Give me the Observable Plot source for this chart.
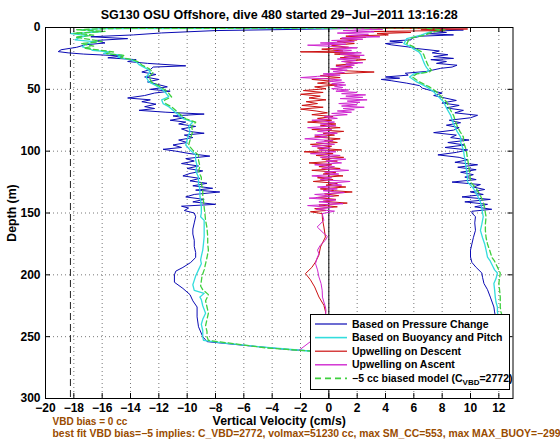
<!DOCTYPE html>
<html><head><meta charset="utf-8">
<script src="https://cdn.jsdelivr.net/npm/d3@7"></script>
<script src="https://cdn.jsdelivr.net/npm/@observablehq/plot@0.6"></script>
<style>body{margin:0;background:#fff}#chart{width:560px;height:442px}</style>
</head><body><div id="chart"></div>
<script>
// ---------- data ----------
const titleText = "SG130 OSU Offshore, dive 480 started 29\u2212Jul\u22122011 13:16:28";
const xLabel = "Vertical Velocity (cm/s)";
const yLabel = "Depth (m)";
const noteLines = ["VBD bias = 0 cc",
  "best fit VBD bias=\u22125 implies: C_VBD=2772, volmax=51230 cc, max SM_CC=553, max MAX_BUOY=\u2212299"];
const legendLabels = ["Based on Pressure Change", "Based on Buoyancy and Pitch", "Upwelling on Descent", "Upwelling on Ascent", "\u22125 cc biased model (C"];
const xTicks = [-20,-18,-16,-14,-12,-10,-8,-6,-4,-2,0,2,4,6,8,10,12];
const yTicks = [0,50,100,150,200,250,300];
const vbdLimit = -18.24;

// [depth (m), vertical velocity (cm/s)]
const pressureDescent = [[0.3,5.0],[0.8,1.7],[2.5,-8.0],[4.4,-11.8],[6.0,-13.8],[7.5,-16.8],[9.0,-14.2],[10.5,-16.5],[12.5,-15.8],[14.0,-17.2],[16.0,-17.8],[18.0,-18.9],[19.5,-19.1],[20.5,-18.4],[21.5,-17.3],[23.0,-14.6],[24.5,-15.6],[26.0,-13.6],[27.5,-14.2],[29.0,-12.8],[31.0,-10.1],[32.0,-12.4],[34.0,-12.6],[36.0,-13.2],[38.0,-12.2],[40.0,-13.0],[42.0,-12.0],[44.0,-12.8],[46.0,-12.1],[48.0,-11.4],[50.0,-12.6],[51.5,-11.2],[53.0,-12.3],[55.0,-13.0],[57.0,-14.2],[58.5,-12.6],[60.0,-13.2],[62.0,-12.2],[64.0,-13.0],[65.5,-12.3],[67.0,-13.4],[68.5,-11.5],[70.0,-8.8],[71.5,-11.0],[73.0,-10.2],[75.0,-11.2],[76.5,-10.1],[78.0,-10.6],[80.0,-9.4],[82.0,-10.4],[84.0,-9.9],[85.5,-8.8],[87.0,-10.2],[89.0,-9.6],[91.0,-10.6],[93.0,-10.0],[95.0,-11.0],[97.0,-10.4],[98.5,-11.7],[100.0,-10.8],[102.0,-9.8],[104.0,-8.4],[106.0,-10.1],[108.0,-9.5],[110.0,-10.4],[112.0,-9.2],[114.0,-10.0],[116.0,-8.9],[118.0,-9.8],[120.0,-10.3],[122.0,-9.1],[124.0,-9.8],[126.0,-8.6],[128.0,-9.6],[130.0,-8.2],[131.5,-9.4],[133.0,-7.7],[135.0,-9.5],[137.0,-10.1],[139.0,-8.8],[141.0,-9.6],[143.0,-8.0],[144.5,-10.4],[146.0,-9.9],[148.0,-10.2],[150.0,-9.5],[153.0,-9.4],[158.0,-9.5],[163.0,-9.6],[167.0,-9.6],[172.0,-9.5],[177.0,-9.5],[182.0,-9.4],[186.0,-9.4],[190.0,-9.75],[194.0,-10.3],[197.0,-10.8],[200.0,-10.9],[206.0,-10.9],[211.0,-10.3],[216.0,-9.8],[221.0,-9.6],[226.0,-9.3],[234.0,-9.3],[242.0,-9.2],[250.0,-8.9],[254.0,-8.6],[257.0,-6.0],[260.6,-2.7],[261.5,-1.1],[262.5,4.0]];
const pressureAscent = [[0.3,6.0],[1,8.0],[2,9.5],[3,7.4],[4,8.3],[5,6.9],[6,8.8],[7,6.5],[8.5,5.9],[10,5.8],[11,4.3],[12,5.2],[13,4.0],[14,4.4],[15.7,5.6],[17,6.2],[19,7.8],[20.5,7.3],[22,8.4],[23.5,7.4],[25,8.8],[26,7.2],[27.5,8.3],[29,7.6],[30.5,9.05],[32,8.7],[33,7.9],[34.5,7.3],[35.5,6.9],[37,5.4],[38.5,5.6],[40,4.0],[41,5.0],[42,3.7],[43,4.4],[45,5.5],[47,6.4],[49,6.6],[51,7.2],[53,8.0],[55,7.4],[57,8.2],[59,9.0],[61,8.0],[63,9.2],[65,8.3],[67,9.5],[69,8.9],[71,10.5],[73,10.0],[75,8.5],[77,9.3],[79,8.3],[81,9.2],[83,8.8],[85,7.4],[87,9.0],[89,8.6],[91,9.9],[93,8.4],[95,9.6],[97,8.2],[99,9.8],[101,9.0],[103,7.7],[105,9.2],[107,9.8],[109,8.9],[111,10.5],[113,9.1],[115,10.4],[117,9.3],[119,10.2],[121,9.6],[123,10.4],[125,8.7],[127,10.7],[129,10.2],[131,11.0],[133,10.0],[135,10.9],[137,9.4],[139,11.4],[141,9.6],[143,11.2],[145,10.3],[147,11.5],[148.6,10.1],[150,10.1],[153,10.35],[158,10.3],[164,10.35],[170,10.2],[175,10.1],[180,10.0],[185.6,10.0],[190,10.1],[194,10.4],[198.5,10.8],[202,10.85],[207,10.95],[212,11.2],[218,11.4],[226,11.65],[230,11.7],[236,11.8],[245,12.1],[255,12.3],[263,11.5]];
const buoyancyDescent = [[0.3,6.5],[0.9,-16.0],[2.0,-17.5],[3.5,-16.1],[4.9,-18.2],[6.5,-17.0],[8.0,-17.6],[10.0,-17.9],[11.6,-16.4],[13.5,-17.2],[15.7,-17.4],[17.0,-16.9],[18.4,-16.7],[19.7,-15.5],[21.0,-15.9],[22.4,-14.6],[24.0,-14.9],[26.0,-14.0],[27.8,-13.6],[30.0,-13.4],[33.0,-12.9],[36.0,-12.6],[40.0,-12.9],[44.0,-12.7],[47.0,-12.2],[50.7,-11.7],[53.0,-11.5],[56.0,-11.3],[58.5,-11.8],[61.5,-11.7],[64.0,-11.3],[67.0,-11.0],[70.0,-10.7],[73.6,-10.3],[76.4,-9.6],[80.0,-9.9],[84.0,-9.8],[87.0,-9.9],[91.0,-10.0],[95.0,-10.1],[99.0,-9.8],[103.0,-9.4],[107.0,-9.4],[112.0,-9.3],[116.0,-9.4],[121.0,-9.2],[126.0,-9.2],[131.0,-9.1],[136.0,-9.1],[140.0,-9.05],[145.0,-9.0],[150.0,-9.0],[153.0,-9.05],[156.0,-8.8],[162.0,-8.8],[169.0,-8.8],[175.0,-8.85],[180.0,-8.9],[185.0,-9.0],[188.0,-9.05],[191.0,-9.0],[196.0,-9.2],[201.0,-9.4],[204.5,-9.5],[208.0,-9.6],[212.5,-9.5],[215.0,-8.8],[218.0,-9.1],[220.0,-9.0],[225.0,-8.9],[231.0,-8.7],[236.0,-8.9],[240.0,-9.0],[245.0,-8.9],[250.0,-8.9],[253.0,-8.85],[255.0,-7.5],[258.0,-5.0],[261.0,-2.0],[262.0,-1.1],[263.0,2.0]];
const buoyancyAscent = [[0.5,6.5],[1.2,7.0],[2,7.9],[3,7.3],[4.5,6.9],[6.2,6.5],[7.5,6.0],[9,5.5],[11,5.4],[13,5.3],[15.7,5.8],[17.5,6.0],[19.7,6.35],[22,6.5],[25,6.6],[28,6.7],[30.5,6.8],[32.5,6.9],[34.5,7.05],[36,6.9],[37.5,6.0],[40,5.7],[44,6.2],[48,6.9],[52,7.4],[55.5,7.7],[60,8.1],[65,8.3],[71,8.6],[78,8.8],[84,9.05],[88.5,9.3],[92.5,9.3],[99,9.5],[103,9.55],[110,9.65],[118,9.75],[125,9.8],[130,10.2],[136,10.5],[141,10.7],[146,10.8],[150,10.85],[153,10.9],[159,10.8],[164,10.7],[170,10.85],[175,11.0],[180,11.1],[185.6,11.2],[189,11.4],[193.7,11.6],[196,11.7],[198.5,11.9],[203,11.8],[207,11.65],[212,11.7],[218,11.75],[222,11.8],[226,11.9],[230,11.9],[236,12.0],[245,12.2],[255,12.3],[262,12.0]];
const upwellingDescent = [[0.5,2.0],[1.2,9.8],[1.8,6.5],[2.5,8.2],[3.2,3.0],[4.0,5.8],[5.0,3.4],[6.0,4.2],[7.0,1.2],[8.0,2.6],[9.0,0.8],[10.0,2.0],[11.5,0.6],[13.0,1.8],[14.5,0.2],[16.0,1.4],[17.5,-0.5],[19.0,1.0],[19.7,-2.0],[20.5,1.8],[21.5,0.4],[23.0,2.2],[24.5,0.8],[26.0,2.6],[27.5,1.0],[29.0,2.0],[30.5,0.5],[32.0,1.6],[33.5,0.2],[35.0,1.2],[36.0,3.2],[37.5,0.4],[39.0,-0.6],[40.5,0.8],[42.0,-1.2],[43.5,0.3],[45.0,-0.8],[46.5,0.6],[48.0,-1.0],[49.5,-0.2],[51.0,-1.8],[52.5,-0.4],[54.0,-2.0],[55.5,-0.6],[57.0,-1.4],[58.5,-0.2],[60.0,-1.6],[61.5,-0.8],[63.0,-1.9],[64.5,-0.4],[66.0,-2.0],[67.5,-0.9],[69.0,-0.1],[70.5,-1.2],[72.0,0.3],[73.5,-0.8],[75.0,0.2],[76.5,-1.5],[78.0,0.5],[79.5,-0.6],[81.0,0.8],[82.5,-1.2],[84.0,1.05],[85.5,-0.4],[87.0,0.4],[88.5,-1.0],[90.0,0.8],[91.5,-0.3],[93.0,0.6],[94.5,-1.3],[96.0,0.2],[97.5,-0.8],[99.0,0.9],[100.5,-1.75],[102.0,0.3],[103.5,-0.9],[105.0,1.05],[106.5,-0.5],[108.0,0.6],[109.5,-1.4],[111.0,0.2],[112.5,-0.7],[114.0,0.8],[115.5,-1.2],[117.0,0.5],[118.5,-0.4],[120.0,1.0],[121.5,-0.8],[123.0,0.3],[124.5,-1.1],[126.0,0.6],[127.5,-0.2],[129.0,1.2],[130.5,-0.6],[132.0,0.4],[133.0,1.65],[134.5,-0.3],[136.0,0.7],[137.5,-0.9],[139.0,0.5],[140.5,-0.4],[142.0,1.3],[143.5,-0.7],[145.0,0.6],[146.5,-1.0],[148.0,-0.2],[149.0,-1.3],[150.5,-0.47],[155,-0.45],[161.3,-0.35],[169.4,-0.24],[177.5,-0.59],[184,-0.7],[189.6,-0.94],[194,-1.2],[199,-1.65],[204,-1.3],[209.8,-1.0],[217.9,-0.7],[224.6,-0.35],[230,-0.23],[240,-0.2],[250,-0.3],[260,-0.5]];
const upwellingAscent = [[0.5,0.5],[1.5,3.8],[2.5,1.0],[3.5,3.2],[4.5,0.6],[5.5,2.8],[6.5,1.4],[7.5,3.6],[8.5,0.9],[9.5,2.4],[10.5,0.2],[11.5,1.8],[12.5,-0.6],[13.5,1.2],[14.3,-1.5],[15.5,0.6],[16.5,2.0],[17.5,0.3],[18.5,1.6],[19.5,0.4],[20.5,2.3],[21.5,0.8],[22.5,2.5],[23.5,1.1],[24.5,2.2],[25.5,0.6],[26.5,1.9],[27.5,0.9],[28.5,2.4],[29.5,1.2],[30.5,1.8],[31.5,0.5],[32.5,1.7],[33.5,0.1],[34.5,1.3],[35.5,0.3],[36.5,1.1],[37.5,-0.4],[38.5,0.8],[39.5,-0.8],[40.5,-2.0],[41.5,-0.2],[42.5,0.9],[43.5,0.0],[44.5,1.1],[45.5,0.2],[46.5,1.2],[47.5,0.4],[48.5,1.0],[49.5,0.2],[50.5,1.4],[51.5,0.5],[52.5,2.0],[53.5,0.9],[54.5,2.6],[55.5,1.2],[56.5,2.4],[57.5,0.8],[58.5,2.7],[59.5,1.3],[60.5,2.2],[61.5,0.7],[62.5,2.0],[63.5,0.9],[64.5,2.5],[65.5,1.0],[66.5,1.8],[67.5,0.6],[68.5,1.6],[69.5,0.2],[70.5,1.3],[72,-0.3],[73.5,0.6],[75,-1.2],[76.5,0.4],[78,-0.6],[79.5,0.5],[81,-1.5],[82.5,0.2],[84,-0.8],[85.5,0.6],[87,-1.0],[88.5,-0.1],[90,-1.7],[91.5,0.3],[93,-0.9],[94.5,0.4],[96,-1.2],[97.5,0.1],[99,-0.7],[100.5,0.5],[102,-1.3],[103.5,0.8],[105,-0.6],[106.5,1.2],[108,-0.2],[109.5,0.9],[111,-1.0],[112.5,0.4],[114,-0.5],[115.5,1.4],[117,-0.3],[118.5,0.7],[120,-1.2],[121.5,0.2],[123,-0.6],[124.5,1.5],[126,0.0],[127.5,0.9],[129,-0.8],[130.5,0.6],[132,-0.4],[133.5,1.1],[135,-1.0],[136.5,0.3],[138,-1.4],[139.5,0.5],[141,-0.7],[142.5,1.0],[144,-1.5],[145.5,0.2],[147,-0.9],[148.5,0.4],[150.5,-0.47],[155.9,-0.35],[161.3,-0.82],[166,-0.4],[169,-0.1],[172,-0.24],[176,-0.6],[180,-0.8],[183,-0.7],[187,-0.85],[191,-0.94],[196,-0.8],[201.7,-0.7],[207,-0.55],[212.5,-0.47],[218,-0.45],[222,-0.35],[226,-0.24],[229,-0.2],[238,-0.3],[246,-0.7],[254,-1.3],[261,-2.1]];
const biasedDescent = [[0.3,6.8],[0.8,-15.5],[1.8,-17.8],[3.2,-15.8],[4.6,-18.0],[6.2,-16.6],[7.8,-17.9],[9.6,-16.9],[11.2,-16.0],[13.0,-17.5],[15.0,-16.6],[16.8,-17.3],[18.2,-16.2],[19.8,-15.2],[21.2,-15.7],[22.6,-14.4],[24.3,-14.7],[26.2,-13.8],[28.0,-13.4],[30.3,-13.2],[33.2,-12.7],[36.2,-12.4],[40.2,-12.7],[44.2,-12.5],[47.2,-12.0],[50.9,-11.5],[53.2,-11.3],[56.2,-11.1],[58.7,-11.6],[61.7,-11.5],[64.2,-11.1],[67.2,-10.8],[70.2,-10.5],[73.8,-10.1],[76.6,-9.4],[80.2,-9.7],[84.2,-9.6],[87.2,-9.7],[91.2,-9.8],[95.2,-9.9],[99.2,-9.6],[103.2,-9.2],[107.2,-9.2],[112.2,-9.1],[116.2,-9.2],[121.2,-9.0],[126.2,-9.0],[131.2,-8.9],[136.2,-8.9],[140.2,-8.85],[145.2,-8.8],[150.2,-8.75],[156,-8.7],[162,-8.6],[169,-8.55],[175,-8.55],[180,-8.5],[186,-8.6],[191,-8.7],[196,-8.8],[201,-8.95],[205,-9.0],[209,-9.05],[212,-8.9],[216,-8.5],[221,-8.7],[226,-8.6],[231,-8.5],[236,-8.6],[241,-8.7],[246,-8.6],[250,-8.6],[253,-8.5],[256,-6.5],[259,-4.5],[261.5,-1.5],[262.5,2.0]];
const biasedAscent = [[0.5,6.8],[1.2,7.4],[2,8.2],[3,7.6],[4.5,7.1],[6.2,6.8],[7.5,6.2],[9,5.7],[11,5.6],[13,5.5],[15.7,6.0],[17.5,6.2],[19.7,6.55],[22,6.7],[25,6.8],[28,6.9],[30.5,7.0],[32.5,7.1],[34.5,7.25],[36,7.1],[37.5,6.2],[40,5.9],[44,6.4],[48,7.1],[52,7.6],[55.5,7.9],[60,8.3],[65,8.5],[71,8.8],[78,9.0],[84,9.25],[88.5,9.5],[92.5,9.5],[99,9.7],[103,9.75],[110,9.85],[118,9.95],[125,10.0],[130,10.4],[136,10.7],[141,10.9],[146,11.0],[150,11.05],[153,11.1],[159,11.05],[164,11.05],[170,11.1],[175,11.2],[180,11.35],[185.6,11.5],[189,11.7],[193.7,11.9],[198.5,12.1],[203,12.05],[207,12.0],[212,12.05],[218,12.1],[222,12.1],[226,12.1],[230,12.15],[236,12.3],[245,12.5],[255,12.6],[262,12.3]];

// ---------- styling ----------
const colBlue = "#0a0ab4", colCyan = "#33dddd", colRed = "#cc1111", colMagenta = "#d028d0", colGreen = "#3fd03f", colNote = "#994c00";
const font = "'Liberation Sans', Arial, Helvetica, sans-serif";
const W = 560, H = 442, mL = 45, mR = 47.5, mT = 27, mB = 44;
const pw = W - mL - mR, ph = H - mT - mB;

const toRows = a => a.map(([depth, v]) => ({depth, v}));
const fullPath = (down, up) => toRows(down.concat(up.slice().reverse()));
const pressure = fullPath(pressureDescent, pressureAscent);
const buoyancy = fullPath(buoyancyDescent, buoyancyAscent);
const biased = fullPath(biasedDescent, biasedAscent);
const upDown = toRows(upwellingDescent);
const upUp = toRows(upwellingAscent);
const fmt = d => d < 0 ? "\u2212" + Math.abs(d) : String(d);

const plot = Plot.plot({
  width: W, height: H,
  marginLeft: mL, marginRight: mR, marginTop: mT, marginBottom: mB,
  style: {fontFamily: font, fontSize: "12px", fontWeight: "bold", background: "white", color: "black"},
  x: {domain: [-20, 13]},
  y: {domain: [0, 300], reverse: true},
  marks: [
    Plot.ruleX(xTicks.filter(d => d > -20), {stroke: "#555", strokeDasharray: "1,3", strokeWidth: 0.8}),
    Plot.ruleY(yTicks.filter(d => d > 0 && d < 300), {stroke: "#555", strokeDasharray: "1,3", strokeWidth: 0.8}),
    Plot.ruleX([vbdLimit], {stroke: "#222", strokeDasharray: "7,4", strokeWidth: 1}),
    Plot.ruleX([0], {stroke: "black", strokeWidth: 1}),
    Plot.line(pressure, {x: "v", y: "depth", stroke: colBlue, strokeWidth: 1}),
    Plot.line(buoyancy, {x: "v", y: "depth", stroke: colCyan, strokeWidth: 1.3}),
    Plot.line(upDown, {x: "v", y: "depth", stroke: colRed, strokeWidth: 1}),
    Plot.line(upUp, {x: "v", y: "depth", stroke: colMagenta, strokeWidth: 1}),
    Plot.line(biased, {x: "v", y: "depth", stroke: colGreen, strokeWidth: 1.3, strokeDasharray: "5,3"}),
    Plot.frame({stroke: "black", strokeWidth: 1}),
    Plot.tickX(xTicks, {x: d => d, insetTop: ph - 5, stroke: "black"}),
    Plot.tickX(xTicks, {x: d => d, insetBottom: ph - 5, stroke: "black"}),
    Plot.tickY(yTicks, {y: d => d, insetRight: pw - 5, stroke: "black"}),
    Plot.tickY(yTicks, {y: d => d, insetLeft: pw - 5, stroke: "black"}),
    Plot.axisX({ticks: xTicks, tickSize: 0, tickPadding: 5, tickFormat: fmt, label: null, fontSize: 12}),
    Plot.axisY({ticks: yTicks, tickSize: 0, tickPadding: 5, tickFormat: fmt, label: null, fontSize: 12}),
    Plot.text([titleText], {text: d => d, frameAnchor: "top", lineAnchor: "middle", textAnchor: "middle", dy: -13, fontSize: 12.5, fontWeight: "bold"}),
    Plot.text([xLabel], {text: d => d, frameAnchor: "bottom", lineAnchor: "middle", textAnchor: "middle", dy: 23, fontSize: 12.3, fontWeight: "bold"}),
    Plot.text([yLabel], {text: d => d, frameAnchor: "left", lineAnchor: "middle", textAnchor: "middle", dx: -33, rotate: -90, fontSize: 12.3, fontWeight: "bold"}),
    Plot.text([noteLines[0]], {text: d => d, frameAnchor: "bottom-left", lineAnchor: "middle", textAnchor: "start", dx: 7, dy: 23, fontSize: 10, fontWeight: "bold", fill: colNote}),
    Plot.text([noteLines[1]], {text: d => d, frameAnchor: "bottom-left", lineAnchor: "middle", textAnchor: "start", dx: 7, dy: 35, fontSize: 10.4, fontWeight: "bold", fill: colNote})
  ]
});
document.getElementById("chart").appendChild(plot);

// ---------- legend (MATLAB-style box over the axes) ----------
const svg = d3.select(plot);
const lg = svg.append("g").attr("font-family", font).attr("font-size", 10.5).attr("font-weight", "bold")
  .attr("text-anchor", "start");
lg.append("rect").attr("x", 310.5).attr("y", 314.5).attr("width", 199).attr("height", 75)
  .attr("fill", "white").attr("stroke", "black");
const legendStyles = [
  {stroke: colBlue, width: 1.2, dash: null},
  {stroke: colCyan, width: 1.6, dash: null},
  {stroke: colRed, width: 1.2, dash: null},
  {stroke: colMagenta, width: 1.4, dash: null},
  {stroke: colGreen, width: 1.6, dash: "6,4"}
];
legendLabels.forEach((label, i) => {
  const cy = 324 + i * 13.6;
  const st = legendStyles[i];
  const ln = lg.append("line").attr("x1", 315).attr("x2", 347).attr("y1", cy).attr("y2", cy)
    .attr("stroke", st.stroke).attr("stroke-width", st.width);
  if (st.dash) ln.attr("stroke-dasharray", st.dash);
  const t = lg.append("text").attr("x", 352).attr("y", cy).attr("dy", "0.35em")
    .attr("text-anchor", "start").attr("fill", "black").text(label);
  if (i === 4) {
    t.append("tspan").attr("font-size", 8).attr("dy", "3").text("VBD");
    t.append("tspan").attr("dy", "-3").text("=2772)");
  }
});
</script>
</body></html>
